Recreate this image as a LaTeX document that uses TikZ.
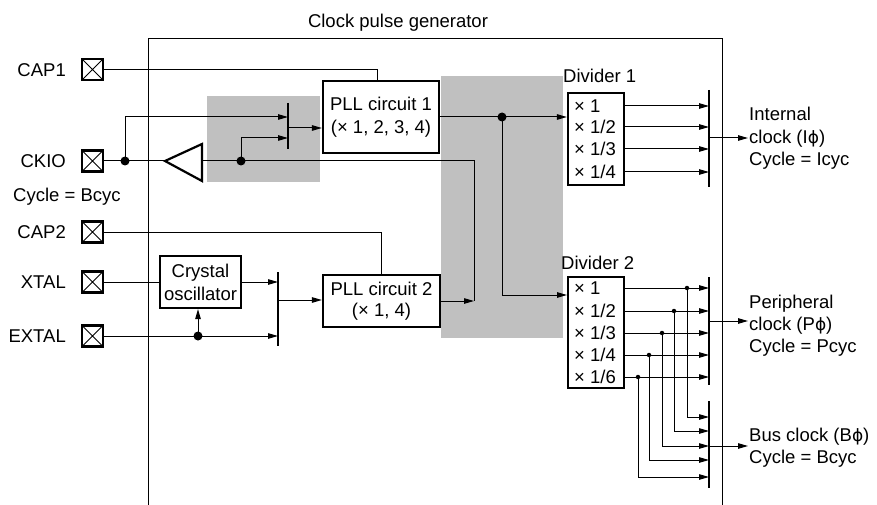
\documentclass[tikz,border=0pt]{standalone}
\usepackage{fontspec}
\setmainfont{Liberation Sans}
\newfontfamily\phifont{DejaVu Sans}
\newcommand{\cpgphi}{{\phifont\fontsize{17}{20}\selectfont ϕ}}
\usetikzlibrary{arrows.meta}
\definecolor{cpggrey}{RGB}{192,192,192}
\begin{document}
\begin{tikzpicture}[x=1pt,y=-1pt,
  every node/.style={font=\fontsize{18.5}{23}\selectfont},
  ln/.style={line width=1pt},
  arr/.style={line width=1pt,-{Triangle[length=10pt,width=5.5pt]}},
  blk/.style={draw,line width=2.2pt,align=center,inner sep=0pt,fill=white},
  pin/.style={draw,line width=2.4pt,minimum size=21pt,inner sep=0pt,
    path picture={\draw[line width=1pt] (path picture bounding box.north west)--(path picture bounding box.south east)
      (path picture bounding box.north east)--(path picture bounding box.south west);}},
  dot/.style={circle,fill,inner sep=0pt,minimum size=9pt},
  sdot/.style={circle,fill,inner sep=0pt,minimum size=4.5pt},
  bar/.style={line width=1.3pt},
  lbl/.style={inner sep=0pt},
]
\useasboundingbox (0,0) rectangle (877,505);
% shaded areas
\fill[cpggrey] (207,96) rectangle (320,182);
\fill[cpggrey] (441,76) rectangle (563,338);
% outer frame
\draw[ln] (148,505) -- (148,39) -- (722,39) -- (722,505);
\node[lbl,anchor=base] (title) at (398,28) {Clock pulse generator};

% pins
\node[pin] (cap1) at (92.5,69.5) {};
\node[pin] (ckio) at (92.5,161) {};
\node[pin] (cap2) at (92.5,232) {};
\node[pin] (xtal) at (92.5,282) {};
\node[pin] (extal) at (92.5,336) {};
\node[lbl,anchor=east] (cap1l) at (66,70) {CAP1};
\node[lbl,anchor=east] (ckiol) at (66,161) {CKIO};
\node[lbl,anchor=base west] (bcyc) at (13,201) {Cycle = Bcyc};
\node[lbl,anchor=east] (cap2l) at (66,232) {CAP2};
\node[lbl,anchor=east] (xtall) at (66,282) {XTAL};
\node[lbl,anchor=east] (extall) at (66,336) {EXTAL};

% blocks
\node[blk,minimum width=116pt,minimum height=72pt] (pll1) at (381,117) {PLL circuit 1\\(× 1, 2, 3, 4)};
\node[blk,minimum width=117pt,minimum height=52pt,font=\fontsize{18.5}{21.5}\selectfont] (pll2) at (381.5,301) {PLL circuit 2\\(× 1, 4)};
\node[blk,minimum width=81pt,minimum height=52pt] (osc) at (200.5,282) {Crystal\\oscillator};
\node[blk,minimum width=56pt,minimum height=92pt] (div1) at (596,139) {};
\node[blk,minimum width=56pt,minimum height=111pt] (div2) at (596,332.5) {};
\node[lbl,anchor=base west] (div1l) at (563,83) {Divider 1};
\node[lbl,anchor=base west] (div2l) at (561,269) {Divider 2};

% divider 1 rows
\node[lbl,anchor=west] (r1a) at (574,106) {× 1};
\node[lbl,anchor=west] (r1b) at (574,127) {× 1/2};
\node[lbl,anchor=west] (r1c) at (574,149) {× 1/3};
\node[lbl,anchor=west] (r1d) at (574,172) {× 1/4};
% divider 2 rows
\node[lbl,anchor=west] (r2a) at (574,288) {× 1};
\node[lbl,anchor=west] (r2b) at (574,311) {× 1/2};
\node[lbl,anchor=west] (r2c) at (574,333) {× 1/3};
\node[lbl,anchor=west] (r2d) at (574,355) {× 1/4};
\node[lbl,anchor=west] (r2e) at (574,377) {× 1/6};

% right texts
\node[lbl,anchor=base west] (il1) at (749,121) {Internal};
\node[lbl,anchor=base west] (il2) at (749,143.5) {clock (I\cpgphi)};
\node[lbl,anchor=base west] (il3) at (749,166) {Cycle = Icyc};
\node[lbl,anchor=base west] (pl1) at (749,308) {Peripheral};
\node[lbl,anchor=base west] (pl2) at (749,330) {clock (P\cpgphi)};
\node[lbl,anchor=base west] (pl3) at (749,352) {Cycle = Pcyc};
\node[lbl,anchor=base west] (bl1) at (749,441) {Bus clock (B\cpgphi)};
\node[lbl,anchor=base west] (bl2) at (749,463) {Cycle = Bcyc};

% coordinates
\coordinate (m1t) at (288,103); \coordinate (m1b) at (288,149);
\coordinate (m1i1) at (288,117); \coordinate (m1i2) at (288,138); \coordinate (m1o) at (288,128);
\coordinate (buftip) at (165,161); \coordinate (bufbase) at (202,161);
\coordinate (ck) at (474,161); \coordinate (cj) at (474,301);
\coordinate (d2in) at (567,295);
\coordinate (x1) at (278,272); \coordinate (x2) at (278,346); \coordinate (xo) at (278,300);
\coordinate (b1t) at (709,90); \coordinate (b1b) at (709,187); \coordinate (b1o) at (709,138);
\coordinate (b2t) at (709,277); \coordinate (b2b) at (709,385); \coordinate (b2o) at (709,321);
\coordinate (b3t) at (709,401); \coordinate (b3b) at (709,488); \coordinate (b3o) at (709,446);
\coordinate (e1) at (709,417); \coordinate (e2) at (709,431); \coordinate (e3) at (709,446);
\coordinate (e4) at (709,460); \coordinate (e5) at (709,477);

% bars
\draw[bar] (m1t) -- (m1b);
\draw[bar] (x1) -- (x2);
\draw[bar] (b1t) -- (b1b);
\draw[bar] (b2t) -- (b2b);
\draw[bar] (b3t) -- (b3b);

% CAP lines
\draw[ln] (cap1.east) -| ([xshift=-4pt]pll1.north);
\draw[ln] (cap2.east) -| (pll2.north);

% CKIO and buffer
\draw[line width=2.2pt,line join=miter] (buftip) -- (202,144) -- (202,181) -- cycle;
\draw[ln] (ckio.east) -- (buftip);
\draw[ln] (bufbase) -- (ck) -- (cj);
\node[dot] (dck) at (125,161) {};
\node[dot] (dbf) at (241,161) {};
\draw[arr] (dck.center) |- (m1i1);
\draw[arr] (dbf.center) |- (m1i2);
\draw[arr] (m1o) -- (m1o -| pll1.west);

% crystal / extal
\draw[ln] (xtal.east) -- (xtal.east -| osc.west);
\draw[arr] (osc.east) -- (osc.east -| x1);
\draw[arr] (extal.east) -- (extal.east -| x1);
\node[dot] (dx) at (198,336) {};
\draw[arr] (dx.center) -- (dx.center |- osc.south);
\draw[arr] (xo) -- (xo -| pll2.west);

% PLL outputs
\draw[arr] (pll2.east) -- (cj);
\draw[arr] (pll1.east) -- (pll1.east -| div1.west);
\node[dot] (j1) at (502,117) {};
\draw[arr] (j1.center) |- (d2in);

% divider 1 outputs
\draw[arr] (div1.east |- r1a) -- (b1t |- r1a);
\draw[arr] (div1.east |- r1b) -- (b1t |- r1b);
\draw[arr] (div1.east |- r1c) -- (b1t |- r1c);
\draw[arr] (div1.east |- r1d) -- (b1t |- r1d);
\draw[arr] (b1o) -- ([xshift=-1pt]b1o -| il2.west);

% divider 2 outputs
\draw[arr] (div2.east |- r2a) -- (b2t |- r2a);
\draw[arr] (div2.east |- r2b) -- (b2t |- r2b);
\draw[arr] (div2.east |- r2c) -- (b2t |- r2c);
\draw[arr] (div2.east |- r2d) -- (b2t |- r2d);
\draw[arr] (div2.east |- r2e) -- (b2t |- r2e);
\draw[arr] (b2o) -- ([xshift=-1pt]b2o -| pl2.west);

% taps to bus clock
\node[sdot] (t1) at (687,288) {};
\node[sdot] (t2) at (674,311) {};
\node[sdot] (t3) at (662,333) {};
\node[sdot] (t4) at (649,355) {};
\node[sdot] (t5) at (638,377) {};
\draw[arr] (t1.center) |- (e1);
\draw[arr] (t2.center) |- (e2);
\draw[arr] (t3.center) |- (e3);
\draw[arr] (t4.center) |- (e4);
\draw[arr] (t5.center) |- (e5);
\draw[arr] (b3o) -- ([xshift=-1pt]b3o -| bl1.west);
\end{tikzpicture}
\end{document}
